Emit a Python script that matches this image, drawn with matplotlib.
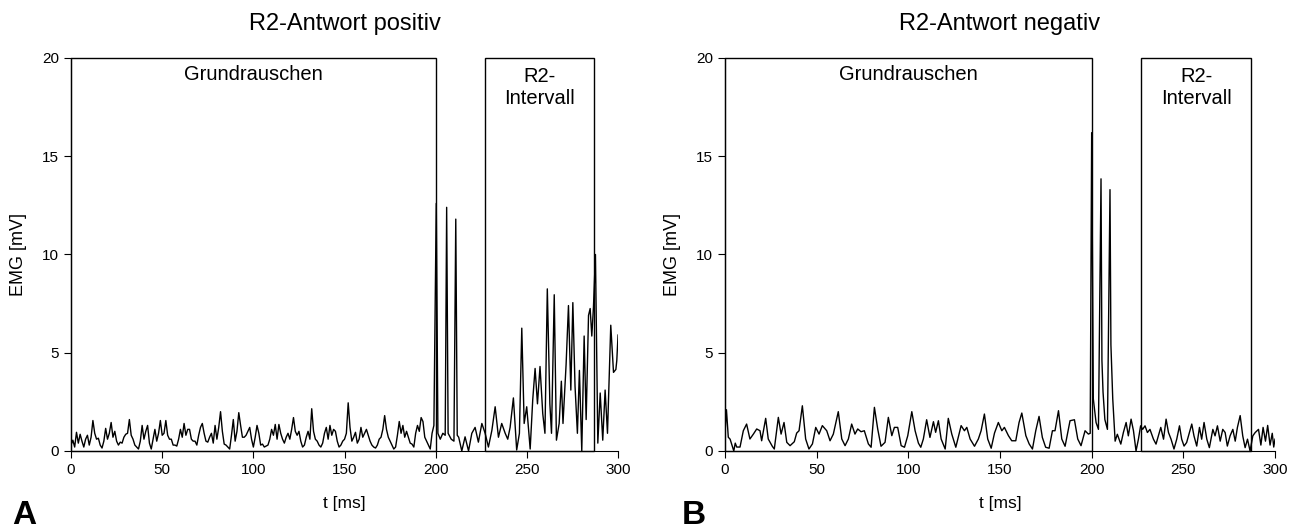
import numpy as np
import matplotlib
matplotlib.use("Agg")
import matplotlib.pyplot as plt
from matplotlib.patches import Rectangle

plt.rcParams['font.family'] = ['Liberation Sans', 'DejaVu Sans']

# ---------------- Daten ----------------
# Panel A: R2-Antwort positiv
t_a = list(range(0, 200)) + [
    200.3, 201.2, 202.5, 203.9, 205.2, 206.0, 206.8, 208.5, 210.0, 211.0,
    211.8, 212.6, 214.3, 216.1, 218.0, 219.8, 221.6, 223.4, 225.3, 227.1,
    228.9, 230.8, 232.6, 234.4, 236.2, 238.1, 239.5, 240.8, 242.6, 244.4,
    245.9, 247.2, 248.5, 249.9, 251.8, 253.2, 254.5, 255.8, 257.2, 258.7,
    259.9, 261.2, 262.6, 263.5, 265.0, 266.2, 267.7, 268.9, 269.8, 271.5,
    272.8, 274.1, 275.2, 276.4, 277.7, 278.8, 280.1, 281.4, 282.5, 283.8,
    284.7, 285.6, 286.5, 287.6, 288.9, 290.2, 291.6, 292.9, 294.2, 296.0,
    297.5, 298.8, 299.3, 300.0]
emg_a = [
    0.3, 0.55, 0.2, 0.95, 0.4, 0.85, 0.5, 0.2, 0.6, 0.8,
    0.3, 0.7, 1.55, 0.9, 0.6, 0.65, 0.3, 0.15, 0.5, 1.15,
    0.6, 0.9, 1.45, 0.7, 1.0, 0.5, 0.3, 0.45, 0.4, 0.7,
    0.85, 0.9, 1.6, 0.8, 0.6, 0.3, 0.2, 0.1, 0.5, 1.3,
    0.6, 1.0, 1.3, 0.4, 0.1, 0.6, 1.1, 0.5, 0.9, 1.55,
    0.8, 0.9, 1.55, 0.8, 0.6, 0.6, 0.3, 0.3, 0.25, 0.6,
    1.1, 0.7, 1.4, 0.8, 1.1, 1.1, 0.6, 0.5, 0.5, 0.3,
    0.8, 1.2, 1.4, 0.9, 0.5, 0.45, 0.7, 0.9, 0.4, 1.3,
    0.6, 1.2, 2.0, 1.0, 0.35, 0.3, 0.2, 0.1, 0.8, 1.6,
    0.5, 1.0, 1.95, 1.3, 0.7, 0.7, 0.8, 1.0, 1.2, 0.6,
    0.2, 0.7, 1.3, 0.9, 0.3, 0.35, 0.2, 0.25, 0.3, 0.6,
    1.1, 0.8, 1.35, 0.6, 1.35, 0.9, 0.6, 0.4, 0.7, 0.9,
    0.6, 1.1, 1.7, 1.0, 0.8, 1.0, 0.5, 0.2, 0.3, 0.7,
    1.0, 0.6, 2.15, 1.0, 0.6, 0.5, 0.3, 0.2, 0.4, 0.9,
    1.2, 0.6, 1.3, 0.8, 1.1, 1.0, 0.5, 0.2, 0.3, 0.5,
    0.6, 0.9, 2.45, 1.2, 0.5, 0.7, 0.95, 0.4, 0.6, 1.2,
    0.7, 0.9, 1.1, 0.8, 0.5, 0.3, 0.2, 0.15, 0.3, 0.6,
    0.7, 1.1, 1.8, 1.1, 0.7, 0.5, 0.3, 0.1, 0.2, 0.8,
    1.5, 0.9, 1.3, 0.7, 1.0, 0.7, 0.4, 0.35, 0.2, 0.9,
    1.3, 1.0, 1.7, 1.5, 0.7, 0.5, 0.3, 0.1, 0.9, 1.3,
    12.6, 0.9, 0.6, 0.9, 0.8, 12.4, 0.9, 0.6, 0.5, 11.8,
    0.8, 0.7, 0.0, 0.72, 0.0, 0.9, 1.2, 0.45, 1.4, 0.9,
    0.2, 1.05, 2.25, 0.7, 1.4, 0.9, 0.6, 1.2, 2.7, 0.05,
    0.9, 6.25, 1.4, 2.25, 0.1, 2.6, 4.2, 2.4, 4.3, 1.9,
    0.9, 8.25, 2.4, 0.9, 7.95, 0.55, 1.4, 3.55, 1.4, 4.4,
    7.4, 3.1, 7.55, 3.3, 0.9, 4.1, 0.0, 5.85, 1.6, 6.9,
    7.25, 5.85, 7.3, 10.0, 0.4, 2.95, 0.55, 3.1, 0.9, 6.4,
    4.0, 4.15, 4.6, 5.9]

# Panel B: R2-Antwort negativ
t_b = [
    0.0, 0.8, 1.8, 2.8, 3.8, 4.8, 5.6, 6.4, 8.2, 10.0,
    11.8, 13.6, 15.5, 17.3, 19.1, 20.0, 22.2, 23.6, 25.8, 26.9,
    29.1, 30.6, 32.2, 33.7, 35.5, 37.8, 39.1, 40.4, 42.2, 44.0,
    45.8, 47.7, 49.5, 51.3, 53.1, 55.5, 57.3, 59.1, 61.8, 63.7,
    65.5, 67.3, 69.1, 70.9, 72.4, 74.2, 76.0, 78.2, 79.7, 81.5,
    83.3, 85.1, 87.3, 89.1, 91.0, 92.4, 94.2, 96.1, 97.9, 99.7,
    101.9, 103.7, 105.5, 106.8, 108.2, 110.0, 111.8, 113.7, 114.9, 116.4,
    117.9, 120.1, 121.8, 123.7, 125.9, 128.8, 130.6, 131.9, 133.7, 136.1,
    138.2, 139.7, 141.5, 143.3, 145.2, 147.0, 149.1, 151.0, 152.4, 154.6,
    156.4, 158.6, 160.4, 161.9, 164.1, 165.9, 167.7, 169.5, 171.3, 173.1,
    174.9, 176.8, 178.6, 180.0, 181.9, 183.7, 185.5, 188.2, 190.6, 192.4,
    194.2, 196.4, 198.2, 199.2, 200.0, 200.9, 202.4, 203.7, 205.1, 205.6,
    206.2, 207.2, 208.6, 210.0, 210.5, 211.5, 212.8, 214.0, 215.9, 217.3,
    218.8, 220.0, 221.5, 222.8, 224.2, 225.5, 226.7, 227.8, 229.1, 230.4,
    231.8, 233.7, 235.1, 236.4, 237.7, 239.2, 240.6, 241.9, 243.3, 244.9,
    246.4, 247.9, 249.1, 250.4, 251.8, 253.3, 254.6, 255.8, 257.3, 258.8,
    260.0, 261.3, 262.8, 264.2, 266.1, 267.3, 268.6, 270.1, 271.5, 272.8,
    274.0, 275.5, 277.0, 278.3, 279.5, 281.0, 282.4, 283.7, 285.0, 286.4,
    287.9, 289.2, 291.0, 292.3, 293.5, 294.8, 296.0, 297.3, 298.5, 299.3,
    300.0]
emg_b = [
    0.9, 2.1, 0.7, 0.6, 0.3, 0.0, 0.4, 0.2, 0.2, 1.03,
    1.37, 0.61, 0.86, 1.12, 1.03, 0.52, 1.66, 0.61, 0.24, 0.1,
    1.71, 0.86, 1.45, 0.44, 0.27, 0.47, 0.91, 1.03, 2.3, 0.61,
    0.1, 0.36, 1.2, 0.86, 1.29, 1.03, 0.52, 0.86, 2.0, 0.61,
    0.27, 0.61, 1.37, 0.86, 1.12, 0.98, 1.03, 0.36, 0.19, 2.22,
    1.12, 0.24, 0.44, 1.71, 0.78, 1.2, 1.2, 0.27, 0.19, 0.78,
    2.0, 1.03, 0.4, 0.19, 0.61, 1.59, 0.69, 1.49, 0.95, 1.54,
    0.61, 0.1, 1.66, 0.86, 0.19, 1.29, 1.03, 1.2, 0.61, 0.24,
    0.61, 1.03, 1.88, 0.61, 0.14, 0.91, 1.45, 1.03, 1.2, 0.78,
    0.52, 0.52, 1.45, 1.93, 0.78, 0.36, 0.1, 1.03, 1.76, 0.69,
    0.19, 0.14, 1.03, 1.03, 2.05, 0.61, 0.24, 1.54, 1.59, 0.61,
    0.27, 1.03, 0.86, 0.9, 16.2, 2.65, 1.45, 1.1, 13.85, 4.6,
    3.0, 1.6, 1.1, 13.3, 5.4, 2.65, 0.5, 0.85, 0.35, 0.94,
    1.45, 0.77, 1.62, 1.03, 0.0, 0.6, 1.28, 1.1, 1.28, 0.94,
    1.1, 0.6, 0.35, 0.77, 1.2, 0.6, 1.62, 0.94, 0.6, 0.1,
    0.6, 1.28, 0.6, 0.25, 0.43, 0.94, 1.37, 0.77, 0.25, 1.2,
    0.6, 1.45, 0.6, 0.17, 1.1, 0.77, 1.28, 0.5, 1.1, 0.94,
    0.25, 0.77, 1.1, 0.5, 1.2, 1.8, 0.77, 0.17, 0.6, 0.0,
    0.77, 0.94, 1.1, 0.3, 1.2, 0.5, 1.3, 0.3, 0.9, 0.2,
    0.6]

# Fenster (ms)
grund = (0, 200)
r2_int = (227, 287)

titles = ["R2-Antwort positiv", "R2-Antwort negativ"]
letters = ["A", "B"]
letter_x = [12, 682]   # Pixel von links

fig = plt.figure(figsize=(12.96, 5.32), dpi=100)
ax_a = fig.add_axes([0.0548, 0.1523, 0.4221, 0.7387])
ax_b = fig.add_axes([0.5594, 0.1523, 0.4244, 0.7387])

for ax, t, y, title, letter, lx in zip([ax_a, ax_b], [t_a, t_b], [emg_a, emg_b],
                                       titles, letters, letter_x):
    ax.plot(t, y, color='black', lw=1.0)

    # Kaesten fuer Grundrauschen und R2-Intervall
    for x0, x1 in [grund, r2_int]:
        ax.add_patch(Rectangle((x0, 0), x1 - x0, 20, fill=False, ec='black', lw=1.0, clip_on=False))
    ax.text(sum(grund) / 2, 19.15, "Grundrauschen", ha='center', va='center', fontsize=14.5)
    ax.text(sum(r2_int) / 2, 18.5, "R2-\nIntervall", ha='center', va='center', fontsize=14.5,
            linespacing=1.25)

    ax.set_xlim(0, 300)
    ax.set_ylim(0, 20)
    ax.set_xticks([0, 50, 100, 150, 200, 250, 300])
    ax.set_yticks([0, 5, 10, 15, 20])
    ax.spines['top'].set_visible(False)
    ax.spines['right'].set_visible(False)
    ax.tick_params(direction='out', length=5, width=0.8, labelsize=11)
    ax.set_xlabel("t [ms]", fontsize=12.5, labelpad=14)
    ax.set_ylabel("EMG [mV]", fontsize=13, labelpad=11)
    ax.set_title(title, fontsize=17, pad=20)
    fig.text(lx / 1296, 1 - 515 / 532, letter, fontsize=24, fontweight='bold',
             ha='left', va='center')

fig.savefig("out.png", dpi=100)
